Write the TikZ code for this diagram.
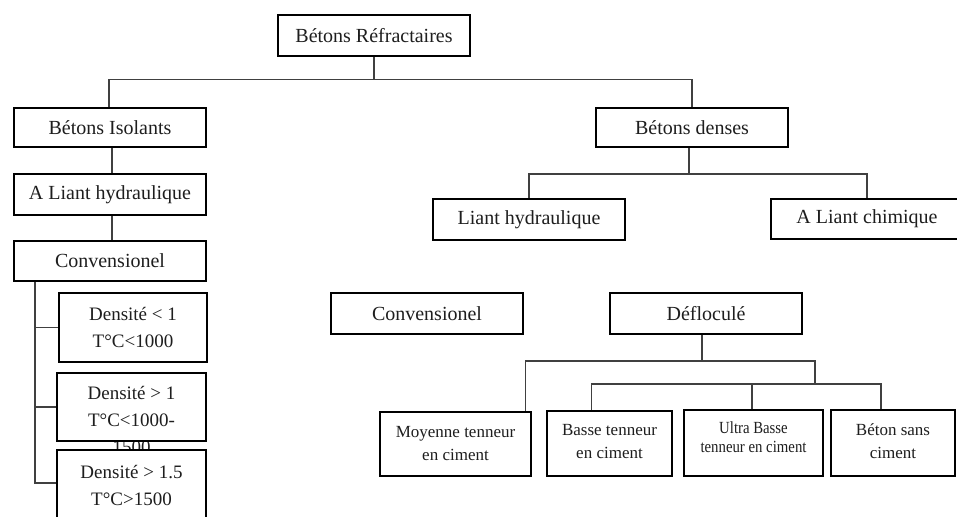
\documentclass[tikz,border=0pt]{standalone}
\usepackage{fontspec}
\setmainfont{Liberation Serif}
\newfontfamily\condfont[FakeStretch=0.87]{Liberation Serif}
\definecolor{txt}{HTML}{1E1E1E}
\definecolor{lin}{HTML}{404040}
\begin{document}
\begin{tikzpicture}[x=1pt,y=-1pt,
  box/.style={draw=black, line width=2.6pt, fill=white, inner sep=0pt, align=center, text=txt},
  con/.style={draw=lin, line width=1.6pt},
  big/.style={font=\fontsize{20}{24}\selectfont},
  dens/.style={font=\fontsize{19}{27}\selectfont},
  mid/.style={font=\fontsize{17}{23}\selectfont},
  small/.style={font=\condfont\fontsize{17}{19}\selectfont}]
\useasboundingbox (0,0) rectangle (957,516);
\clip (0,0) rectangle (957,516);
\fill[white] (0,0) rectangle (957,516);

% level 0/1
\node[box,big,minimum width=192pt,minimum height=41pt] (root) at (374,35.5) {Bétons Réfractaires};
\node[box,big,minimum width=192pt,minimum height=39pt] (isol) at (110,127.5) {Bétons Isolants};
\node[box,big,minimum width=192pt,minimum height=39pt] (dense) at (692,127.5) {Bétons denses};

% left branch
\node[box,big,minimum width=192pt,minimum height=41pt] (alh) at (110,194.5) {A Liant hydraulique};
\node[box,big,minimum width=192pt,minimum height=40pt] (conv1) at (110,261) {Convensionel};
\node[box,dens,minimum width=148pt,minimum height=69pt] (d1) at (133,327.5) {Densité < 1\\T°C<1000};
\node[dens,align=center,text=txt,inner sep=0pt,anchor=north] (d2t) at (131.5,386) {Densité > 1\\T°C<1000-\\1500};
\node[draw=black,line width=2.6pt,inner sep=0pt,minimum width=149pt,minimum height=68pt] (d2) at (131.5,407) {};
\node[box,dens,minimum width=149pt,minimum height=70pt] (d3) at (131.5,485) {Densité > 1.5\\T°C>1500};

% right branch
\node[box,big,minimum width=192pt,minimum height=41pt] (lh) at (529,219.5) {Liant hydraulique};
\node[box,big,minimum width=192pt,minimum height=40pt] (alc) at (867,219) {A Liant chimique};
\node[box,big,minimum width=192pt,minimum height=41pt] (conv2) at (427,313.5) {Convensionel};
\node[box,big,minimum width=192pt,minimum height=41pt] (defl) at (706,313.5) {Défloculé};

\node[box,minimum width=151pt,minimum height=64pt] (moy) at (455.5,444) {};
\node[mid,align=center,text=txt,inner sep=0pt] (moyt) at (455.5,443.5) {Moyenne tenneur\\en ciment};
\node[box,minimum width=125pt,minimum height=65pt] (basse) at (609.5,443.5) {};
\node[mid,align=center,text=txt,inner sep=0pt] (basset) at (609.5,441.5) {Basse tenneur\\en ciment};
\node[box,minimum width=139pt,minimum height=66pt] (ultra) at (753.5,443) {};
\node[small,align=center,text=txt,inner sep=0pt] (ultrat) at (753.5,437.5) {Ultra Basse\\tenneur en ciment};
\node[box,minimum width=124pt,minimum height=66pt] (sans) at (893,443) {};
\node[mid,align=center,text=txt,inner sep=0pt] (sanst) at (893,441.5) {Béton sans\\ciment};

% connectors
\draw[con] (root.south) -- ++(0,23);
\draw[con] ([xshift=-1pt]isol.north) -- ++(0,-27) -| (dense.north);
\draw[con] ([xshift=2pt]isol.south) -- ([xshift=2pt]alh.north);
\draw[con] ([xshift=2pt]alh.south) -- ([xshift=2pt]conv1.north);
\draw[con] ([xshift=22pt]conv1.south west) |- (d1.west);
\draw[con] ([xshift=22pt]conv1.south west) |- (d2.west);
\draw[con] ([xshift=22pt]conv1.south west) |- ([yshift=2pt]d3.west);

\draw[con] ([xshift=-3pt]dense.south) -- ++(0,26);
\draw[con] (lh.north) -- ++(0,-24) -| (alc.north);

\coordinate (j3) at (815,361);
\coordinate (j4) at (815,384);
\draw[con] ([xshift=-4pt]defl.south) -- ([xshift=-4pt]defl.south |- j3);
\draw[con] ([xshift=-7pt]moy.north east) |- (j3) -- (j4);
\draw[con] ([xshift=-18pt]basse.north) |- (j4) -| ([xshift=-12pt]sans.north);
\draw[con] ([xshift=-1.5pt]ultra.north) -- ([xshift=-1.5pt]ultra.north |- j4);
\end{tikzpicture}
\end{document}
